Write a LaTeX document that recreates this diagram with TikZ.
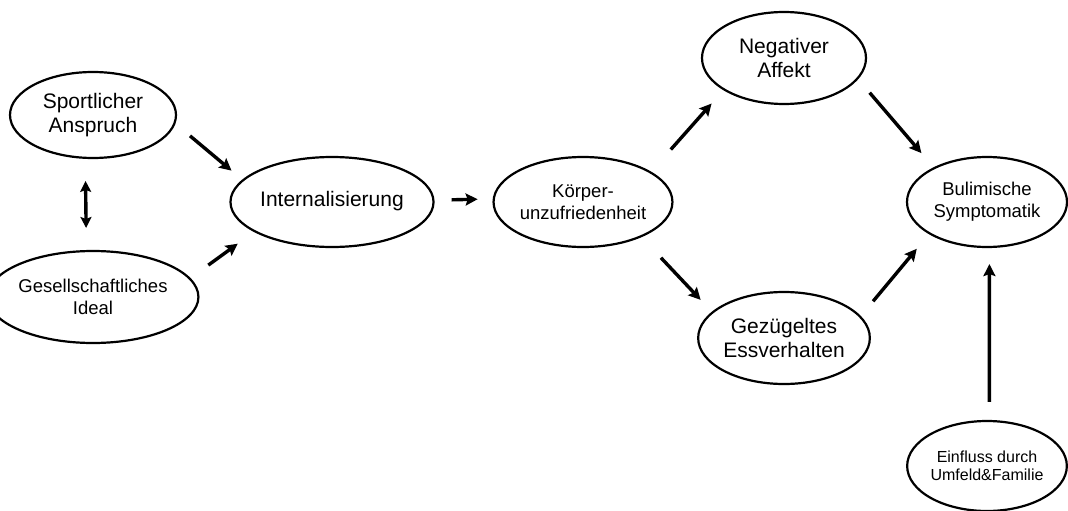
\documentclass[tikz,border=0pt]{standalone}
\usepackage{fontspec}
\setmainfont{Liberation Sans}
\usepackage{tikz}
\usetikzlibrary{arrows.meta,shapes.geometric}
\tikzstyle{bubble} = [ellipse, draw=black, line width=2.2pt, inner sep=0pt, align=center, text=black]
\tikzstyle{bigtxt} = [font={\fontsize{21}{24}\selectfont}]
\tikzstyle{midtxt} = [font={\fontsize{18.5}{22}\selectfont}]
\tikzstyle{smalltxt} = [font={\fontsize{16}{18}\selectfont}]
\tikzstyle{link} = [line width=3.4pt, -{Stealth[length=12pt, width=12pt, inset=2pt]}]
\tikzstyle{duallink} = [line width=3.4pt, {Stealth[length=11pt, width=11pt, inset=2pt]}-{Stealth[length=11pt, width=11pt, inset=2pt]}]

\begin{document}
\begin{tikzpicture}[x=1pt, y=-1pt]
  \useasboundingbox (0,0) rectangle (1068,511);

  % left column
  \node[at={(93,115)}, bubble, bigtxt, minimum width=166pt, minimum height=86pt] (sport) {Sportlicher\\Anspruch};
  \node[at={(93,297)}, bubble, midtxt, minimum width=166pt, minimum height=92pt] (ideal) {Gesellschaftliches\\Ideal};

  % middle
  \node[at={(332,202)}, bubble, bigtxt, minimum width=166pt, minimum height=90pt] (intern) {\raisebox{6pt}{Internalisierung}};
  \node[at={(583,202)}, bubble, midtxt, minimum width=156pt, minimum height=90pt] (koerper) {Körper-\\unzufriedenheit};

  % right part
  \node[at={(784,58)}, bubble, bigtxt, minimum width=164pt, minimum height=92pt] (neg) {Negativer\\Affekt};
  \node[at={(784,338)}, bubble, bigtxt, minimum width=164pt, minimum height=92pt] (gez) {Gezügeltes\\Essverhalten};
  \node[at={(987,202)}, bubble, midtxt, minimum width=160pt, minimum height=90pt] (bul) {Bulimische\\Symptomatik};
  \node[at={(987,466)}, bubble, smalltxt, minimum width=158pt, minimum height=90pt] (einfl) {Einfluss durch\\Umfeld\&Familie};

  \draw[duallink, shorten <=22pt, shorten >=22pt] (sport.260.7) -- (ideal.98.7);
  \draw[link, shorten <=19pt, shorten >=14pt] (sport.-6.2) -- (intern.166.2);
  \draw[link, shorten <=22pt, shorten >=20pt] (ideal.11.7) -- (intern.201.2);

  \draw[link, shorten <=17pt, shorten >=15pt] (intern.1.4) -- (koerper.178.5);

  \draw[link, shorten <=29.6pt, shorten >=17.8pt] (koerper.24.2) -- (neg.208.7);
  \draw[link, shorten <=28.3pt, shorten >=16.3pt] (koerper.-31.9) -- (gez.160.6);

  \draw[link, shorten <=17.7pt, shorten >=18.7pt] (neg.-16.8) -- (bul.147.1);
  \draw[link, shorten <=19.1pt, shorten >=19pt] (gez.16.9) -- (bul.209.6);
  \draw[link, shorten <=18pt, shorten >=16pt] (einfl.87.5) -- (bul.-87.5);
\end{tikzpicture}
\end{document}
